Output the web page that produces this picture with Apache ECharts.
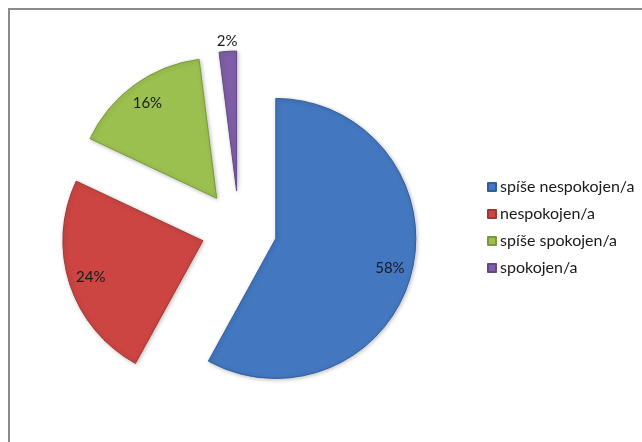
<!DOCTYPE html>
<html>
<head>
<meta charset="utf-8">
<script src="https://cdn.jsdelivr.net/npm/echarts@6/dist/echarts.min.js"></script>
<style>
  html, body { margin: 0; padding: 0; background: #ffffff; overflow: hidden; }
  #chart { position: absolute; left: 0; top: 0; width: 642px; height: 442px; }
  #frame {
    position: absolute; left: 8px; top: 8px; width: 700px; height: 500px;
    border-left: 2px solid #8c8c8c; border-top: 2px solid #8c8c8c;
    pointer-events: none;
  }
</style>
</head>
<body>
<div id="chart"></div>
<div id="frame"></div>
<script>
// Satisfaction survey answers (share of respondents, %)
const categories = ['spíše nespokojen/a', 'nespokojen/a', 'spíše spokojen/a', 'spokojen/a'];
const shares = [58, 24, 16, 2];
const sliceColors = ['#4377bf', '#cc4542', '#9bc04f', '#7f5fa8'];
const edgeColors = ['#2f5e9e', '#a33633', '#7a9a3a', '#634888'];

const CENTER = [239, 229];
const RADIUS = 140;
const EXPLODE = 38;

function slices(labelFor) {
  return categories.map((name, i) => ({
    name: name,
    value: shares[i],
    selected: true,
    label: labelFor(i)
  }));
}

const common = {
  type: 'pie',
  center: CENTER,
  startAngle: 90,
  clockwise: true,
  selectedMode: 'multiple',
  selectedOffset: EXPLODE,
  avoidLabelOverlap: false,
  animation: false,
  emphasis: { disabled: true },
  labelLine: { show: false }
};

const labelStyle = {
  position: 'inside',
  color: '#1a1a1a',
  fontFamily: 'Lato',
  fontSize: 15,
  formatter: '{c}%'
};

const chart = echarts.init(document.getElementById('chart'), null, { renderer: 'canvas' });
chart.setOption({
  backgroundColor: 'transparent',
  legend: {
    orient: 'vertical',
    left: 482,
    top: 174,
    itemWidth: 8,
    itemHeight: 8,
    itemGap: 11,
    icon: 'rect',
    data: categories,
    selectedMode: false,
    textStyle: { fontFamily: 'Lato', fontSize: 16, color: '#1a1a1a', padding: [0, 0, 0, -1] }
  },
  series: [
    Object.assign({}, common, {
      name: 'slices',
      radius: [0, RADIUS],
      data: categories.map((name, i) => ({
        name: name,
        value: shares[i],
        selected: true,
        itemStyle: { color: sliceColors[i], borderColor: edgeColors[i], borderWidth: 1 },
        select: { itemStyle: { color: sliceColors[i], borderColor: edgeColors[i], borderWidth: 1 } }
      })),
      label: { show: false },
      itemStyle: {
        shadowBlur: 4,
        shadowColor: 'rgba(0,0,0,0.25)',
        shadowOffsetX: 1,
        shadowOffsetY: 1
      }
    }),
    // transparent ring used only to place the percentage labels of the big slices
    Object.assign({}, common, {
      name: 'labels',
      radius: [0, RADIUS * 1.64],
      silent: true,
      legendHoverLink: false,
      itemStyle: { color: 'rgba(0,0,0,0)' },
      select: { itemStyle: { color: 'rgba(0,0,0,0)', borderWidth: 0 } },
      data: slices(i => Object.assign({}, labelStyle, { show: i < 3 }))
    }),
    // label of the thin slice, just outside its tip
    Object.assign({}, common, {
      name: 'labels-outer',
      radius: [0, RADIUS * 2.11],
      silent: true,
      legendHoverLink: false,
      itemStyle: { color: 'rgba(0,0,0,0)' },
      select: { itemStyle: { color: 'rgba(0,0,0,0)', borderWidth: 0 } },
      data: slices(i => Object.assign({}, labelStyle, { show: i === 3 }))
    })
  ]
});
</script>
</body>
</html>
